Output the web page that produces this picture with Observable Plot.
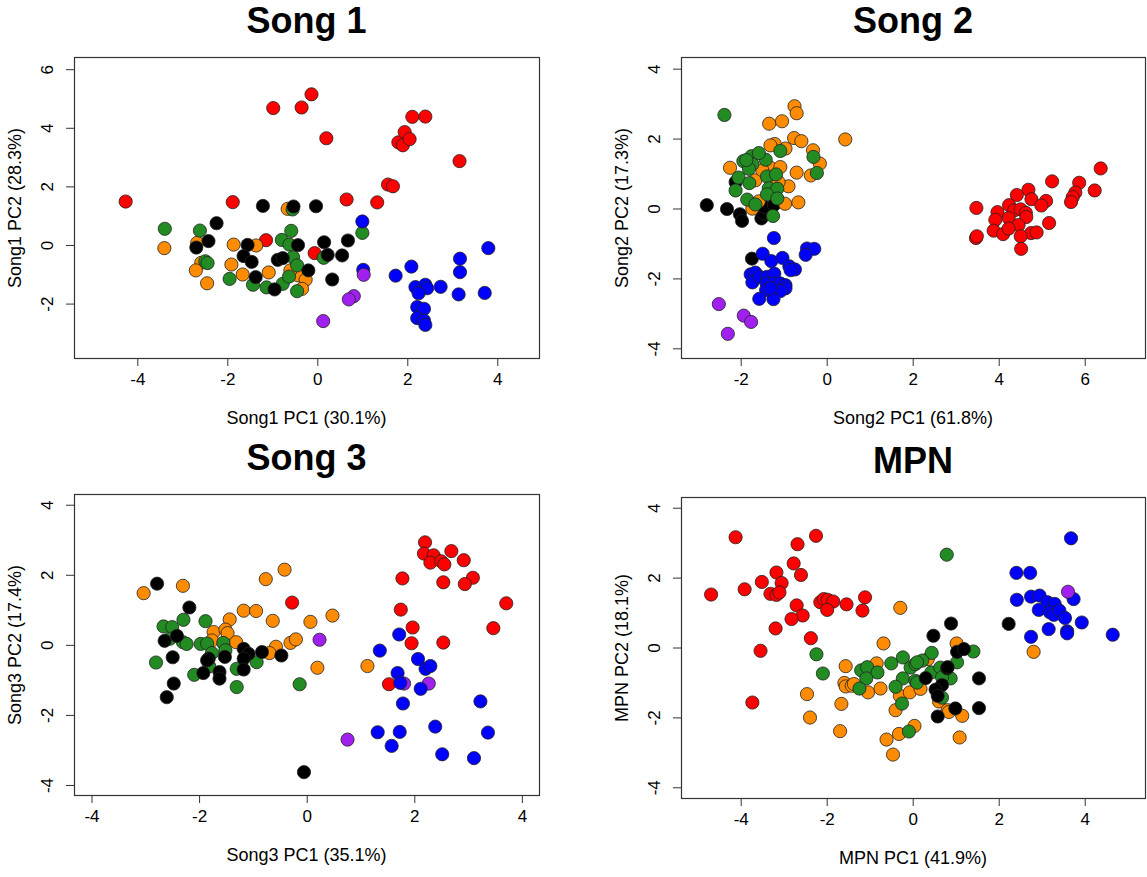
<!DOCTYPE html>
<html>
<head>
<meta charset="utf-8">
<script src="https://cdn.jsdelivr.net/npm/d3@7"></script>
<script src="https://cdn.jsdelivr.net/npm/@observablehq/plot@0.6"></script>
<style>
  body { margin: 0; background: #fff; }
  #chart { position: relative; width: 1147px; height: 877px; font-family: "Liberation Sans", Arial, sans-serif; color: #000; }
  .panel { position: absolute; }
  .title { position: absolute; font-weight: bold; font-size: 36px; line-height: 1; white-space: nowrap; transform: translate(-50%, -50%); }
  .xlab { position: absolute; font-size: 18px; line-height: 1; white-space: nowrap; transform: translate(-50%, -50%); }
  .ylab { position: absolute; font-size: 18px; line-height: 1; white-space: nowrap; transform: translate(-50%, -50%) rotate(-90deg); }
</style>
</head>
<body>
<div id="chart"></div>
<script>
// PCA scores per song, split by group colour: [PC1, PC2]

// ---- Song 1 ----
const song1Red = [[-4.27,1.50],[-1.89,1.48],[-1.15,0.18],[-0.99,4.69],[-0.36,4.71],[-0.14,5.16],[0.19,3.66],[-0.07,-0.26],[0.64,1.57],[1.32,1.47],[1.56,2.08],[1.67,2.02],[1.79,3.52],[1.89,3.42],[1.93,3.87],[2.04,3.63],[2.10,4.39],[2.39,4.40],[3.15,2.88]];
const song1Orange = [[-3.41,-0.09],[-2.68,0.09],[-2.59,-0.59],[-2.71,-0.85],[-2.46,-1.29],[-1.87,0.03],[-1.37,0.00],[-1.92,-0.65],[-1.67,-0.99],[-1.09,-0.92],[-0.67,1.25],[-0.44,-1.02],[-0.27,-1.17],[-0.35,-1.48],[-0.61,-0.85]];
const song1Green = [[-3.40,0.57],[-2.62,0.51],[-2.50,-0.54],[-2.45,-0.60],[-1.96,-1.14],[-1.44,-1.34],[-1.14,-1.43],[-0.78,-1.31],[-0.64,-1.06],[-0.80,0.19],[-0.59,0.50],[-0.63,0.03],[-0.55,-0.40],[-0.46,-0.68],[-0.46,-1.56],[-0.56,1.23],[0.99,0.43],[0.13,-0.42]];
const song1Black = [[-2.25,0.76],[-2.43,0.15],[-2.70,-0.07],[-1.22,1.35],[-0.54,1.33],[-0.04,1.34],[-1.56,0.02],[-1.65,-0.36],[-1.47,-0.56],[-1.38,-1.08],[-0.96,-1.50],[-0.89,-0.49],[-0.78,-0.43],[-0.44,0.01],[-0.21,-0.85],[0.14,0.11],[0.67,0.17],[0.54,-0.34],[0.22,-0.32],[0.32,-1.16]];
const song1Blue = [[0.99,0.82],[1.01,-0.83],[1.73,-1.03],[2.08,-0.72],[2.17,-1.42],[2.39,-1.34],[2.43,-1.46],[2.24,-1.63],[2.73,-1.41],[2.21,-2.10],[2.36,-2.16],[2.21,-2.48],[2.36,-2.56],[2.39,-2.71],[3.13,-1.67],[3.71,-1.62],[3.16,-0.91],[3.16,-0.45],[3.79,-0.09]];
const song1Purple = [[1.02,-1.00],[0.80,-1.73],[0.69,-1.84],[0.12,-2.58]];

// ---- Song 2 ----
const song2Red = [[6.36,1.16],[5.86,0.75],[6.22,0.53],[5.77,0.47],[5.71,0.34],[5.67,0.20],[5.23,0.79],[4.68,0.55],[4.41,0.40],[4.75,0.28],[5.09,0.23],[4.98,0.10],[4.23,0.11],[3.47,0.03],[3.96,-0.09],[4.35,-0.04],[4.50,-0.01],[4.62,-0.11],[4.63,-0.23],[3.91,-0.31],[4.22,-0.26],[5.16,-0.40],[4.45,-0.46],[3.87,-0.62],[4.09,-0.72],[4.22,-0.56],[4.74,-0.69],[4.87,-0.67],[4.50,-0.78],[3.46,-0.83],[3.48,-0.78],[4.51,-1.14]];
const song2Black = [[-2.80,0.11],[-2.33,0.00],[-2.03,-0.15],[-1.98,-0.34],[-1.53,-0.27],[-1.49,-0.13],[-1.47,0.06],[-1.24,0.11],[-2.13,0.77],[-1.75,-1.42]];
const song2Orange = [[-0.76,2.94],[-0.71,2.74],[-1.35,2.44],[-1.05,2.51],[-0.77,2.03],[-0.60,1.94],[0.42,1.99],[-0.33,1.68],[-0.17,1.30],[-0.38,0.96],[-0.71,1.04],[-0.67,0.19],[-0.98,0.15],[-0.90,0.65],[-2.26,1.18],[-1.22,1.86],[-0.97,1.73],[-1.74,0.01],[-1.59,0.22],[-1.67,0.82],[-1.32,1.18],[-1.13,0.77],[-1.32,1.82],[-1.51,1.11],[-1.09,1.20]];
const song2Green = [[-2.39,2.69],[-0.32,1.49],[-0.24,1.03],[-1.09,1.66],[-1.43,1.41],[-1.76,1.51],[-1.95,1.37],[-1.59,1.60],[-1.74,1.28],[-2.06,0.90],[-2.13,0.53],[-1.81,0.74],[-1.40,0.93],[-1.19,0.99],[-1.36,0.59],[-1.16,0.58],[-1.40,0.42],[-1.16,0.30],[-1.86,0.27],[-1.67,0.13],[-1.26,-0.20],[-1.82,1.15],[-1.88,1.40]];
const song2Blue = [[-1.24,-0.83],[-1.50,-1.28],[-1.30,-1.49],[-1.04,-1.40],[-0.88,-1.64],[-0.75,-1.73],[-0.85,-1.75],[-0.47,-1.13],[-0.30,-1.14],[-0.50,-1.31],[-1.78,-1.87],[-1.67,-1.82],[-1.74,-2.10],[-1.57,-1.94],[-1.40,-1.94],[-1.23,-1.85],[-1.41,-2.13],[-1.24,-2.13],[-1.42,-2.32],[-1.09,-2.13],[-0.97,-2.18],[-0.97,-2.27],[-1.09,-2.35],[-1.58,-2.57],[-1.25,-2.58],[-1.32,-2.27]];
const song2Purple = [[-2.52,-2.72],[-1.94,-3.05],[-1.77,-3.23],[-2.31,-3.57]];

// ---- Song 3 ----
const song3Red = [[-0.28,1.22],[2.19,2.94],[2.17,2.62],[2.35,2.57],[2.29,2.36],[2.49,2.40],[2.55,2.31],[2.68,2.69],[2.91,2.43],[3.08,1.93],[2.93,1.75],[2.53,1.80],[1.77,1.91],[3.70,1.20],[3.46,0.49],[1.74,1.02],[1.96,0.51],[1.94,0.06],[2.53,0.08],[1.52,-1.11]];
const song3Orange = [[-3.04,1.49],[-2.31,1.70],[-0.77,1.89],[-0.42,2.16],[-1.18,0.99],[-0.95,0.98],[-0.64,0.70],[0.06,0.67],[-1.44,0.74],[-1.74,0.38],[-1.52,0.45],[-1.48,0.35],[-1.77,0.14],[-1.32,0.09],[-0.31,0.07],[-0.21,0.17],[-0.58,-0.04],[-0.70,-0.22],[0.47,0.85],[0.19,-0.64],[1.12,-0.59]];
const song3Green = [[-2.67,0.54],[-2.51,0.52],[-2.30,0.73],[-1.89,0.69],[-2.55,0.19],[-2.31,0.09],[-2.24,0.04],[-2.81,-0.49],[-1.98,0.04],[-1.86,0.05],[-1.77,-0.22],[-1.82,-0.60],[-2.10,-0.84],[-1.56,0.07],[-1.52,-0.14],[-1.31,-0.67],[-1.31,-1.19],[-0.94,-0.48],[-0.14,-1.11]];
const song3Black = [[-2.79,1.76],[-2.19,1.08],[-2.42,0.27],[-2.65,0.13],[-2.50,-0.34],[-2.48,-1.09],[-2.61,-1.48],[-1.93,-0.79],[-1.63,-0.76],[-1.63,-0.95],[-1.83,-0.38],[-1.86,-0.43],[-1.53,-0.33],[-1.18,-0.10],[-1.09,-0.24],[-1.18,-0.38],[-1.18,-0.69],[-0.84,-0.19],[-0.48,-0.29],[-0.06,-3.62]];
const song3Purple = [[0.23,0.16],[1.80,-1.09],[2.26,-1.09],[0.75,-2.69]];
const song3Blue = [[1.71,0.31],[1.35,-0.15],[2.06,-0.39],[2.20,-0.67],[2.29,-0.59],[1.68,-0.79],[1.73,-1.07],[2.11,-1.24],[1.78,-1.66],[3.22,-1.60],[1.31,-2.48],[1.72,-2.47],[1.57,-2.87],[2.38,-2.32],[3.36,-2.49],[2.51,-3.11],[3.10,-3.22]];

// ---- MPN ----
const mpnRed = [[-4.13,3.17],[-4.70,1.53],[-3.92,1.68],[-3.52,1.89],[-3.18,2.16],[-3.06,1.86],[-3.32,1.55],[-3.18,1.52],[-3.11,1.59],[-2.69,2.97],[-2.26,3.21],[-2.78,2.42],[-2.61,2.09],[-2.71,1.22],[-2.57,0.93],[-2.83,0.83],[-3.20,0.56],[-2.38,0.28],[-3.55,-0.08],[-3.74,-1.56],[-2.16,1.31],[-2.08,1.40],[-1.99,1.38],[-1.86,1.33],[-2.00,1.09],[-1.55,1.25],[-1.12,1.45],[-1.18,1.07]];
const mpnOrange = [[-0.30,1.15],[-0.69,0.13],[-1.57,-0.52],[-0.85,-0.44],[-1.60,-1.00],[-1.57,-1.10],[-1.43,-1.08],[-1.05,-1.27],[-0.76,-1.16],[-2.47,-1.32],[-1.67,-1.60],[-2.40,-1.99],[-1.70,-2.38],[-0.62,-2.62],[-0.47,-3.05],[-0.33,-2.46],[-0.41,-1.78],[-0.31,-1.37],[-0.08,-1.27],[0.17,-1.17],[0.60,-1.53],[0.80,-1.78],[1.14,-1.94],[0.03,-2.23],[1.08,-2.56],[1.01,0.13],[0.34,-0.32],[-1.38,-1.03],[0.83,-1.83],[2.80,-0.11]];
const mpnGreen = [[-2.25,-0.18],[-2.10,-0.73],[-1.21,-0.64],[-1.07,-0.55],[-0.83,-0.70],[-1.09,-0.87],[-1.25,-1.16],[-0.51,-0.44],[-0.24,-0.27],[-0.24,-0.87],[-0.41,-1.11],[-0.26,-1.59],[-0.10,-2.39],[-0.06,-0.56],[0.78,2.67],[1.40,-0.10],[0.43,-0.14],[0.21,-0.36],[0.05,-0.46],[0.09,-0.41],[0.42,-0.70],[0.05,-0.94],[0.09,-0.99],[0.63,-0.56],[0.87,-0.87],[0.67,-0.84],[1.02,-0.41],[0.67,-1.42]];
const mpnBlack = [[0.88,0.70],[0.47,0.35],[2.22,0.69],[1.02,-0.11],[1.18,-0.03],[0.79,-0.58],[0.29,-0.86],[0.67,-1.06],[0.52,-1.19],[0.57,-1.37],[1.53,-0.87],[1.53,-1.72],[0.98,-1.73],[0.57,-1.96],[0.80,-0.55]];
const mpnBlue = [[3.67,3.14],[2.40,2.15],[2.72,2.15],[2.41,1.38],[2.74,1.47],[2.94,1.50],[3.12,1.31],[3.29,1.26],[3.73,1.40],[2.92,1.09],[3.18,1.02],[3.27,0.95],[3.40,1.07],[3.53,0.86],[3.92,0.73],[3.15,0.54],[3.58,0.48],[3.58,0.42],[2.74,0.32],[4.64,0.38]];
const mpnPurple = [[3.60,1.61]];

// Tick labels
const ticksSong1X = [-4, -2, 0, 2, 4];
const ticksSong1Y = [-2, 0, 2, 4, 6];
const ticksSong2X = [-2, 0, 2, 4, 6];
const ticksSong2Y = [-4, -2, 0, 2, 4];
const ticksSong3X = [-4, -2, 0, 2, 4];
const ticksSong3Y = [-4, -2, 0, 2, 4];
const ticksMpnX = [-4, -2, 0, 2, 4];
const ticksMpnY = [-4, -2, 0, 2, 4];

// Group fill colours
const colors = {
  red: "#FF0000", orange: "#FF8C00", green: "#228B22",
  black: "#000000", blue: "#0000FF", purple: "#A020F0"
};

// Panel layout (position of each svg on the page, frame margins, scale domains)
const panels = [
  {
    title: "Song 1", xLabel: "Song1 PC1 (30.1%)", yLabel: "Song1 PC2 (28.3%)",
    left: 0, top: 0, width: 560, height: 440,
    margin: [57, 21, 82, 74],
    xDomain: [-5.407, 4.927], yDomain: [-3.857, 6.416],
    xTicks: ticksSong1X, yTicks: ticksSong1Y,
    titleY: 21, xLabY: 418, yLabX: 15,
    layers: [["red", song1Red], ["orange", song1Orange], ["green", song1Green], ["black", song1Black], ["blue", song1Blue], ["purple", song1Purple]]
  },
  {
    title: "Song 2", xLabel: "Song2 PC1 (61.8%)", yLabel: "Song2 PC2 (17.3%)",
    left: 581, top: 0, width: 566, height: 440,
    margin: [57, 2, 82, 100],
    xDomain: [-3.388, 7.402], yDomain: [-4.277, 4.334],
    xTicks: ticksSong2X, yTicks: ticksSong2Y,
    titleY: 21, xLabY: 418, yLabX: 622,
    layers: [["red", song2Red], ["black", song2Black], ["orange", song2Orange], ["green", song2Green], ["blue", song2Blue], ["purple", song2Purple]]
  },
  {
    title: "Song 3", xLabel: "Song3 PC1 (35.1%)", yLabel: "Song3 PC2 (17.4%)",
    left: 0, top: 440, width: 560, height: 437,
    margin: [54, 21, 82, 74],
    xDomain: [-4.325, 4.318], yDomain: [-4.286, 4.306],
    xTicks: ticksSong3X, yTicks: ticksSong3Y,
    titleY: 458, xLabY: 855, yLabX: 15,
    layers: [["red", song3Red], ["orange", song3Orange], ["green", song3Green], ["black", song3Black], ["purple", song3Purple], ["blue", song3Blue]]
  },
  {
    title: "MPN", xLabel: "MPN PC1 (41.9%)", yLabel: "MPN PC2 (18.1%)",
    left: 581, top: 440, width: 566, height: 437,
    margin: [57, 2, 79, 100],
    xDomain: [-5.388, 5.402], yDomain: [-4.307, 4.307],
    xTicks: ticksMpnX, yTicks: ticksMpnY,
    titleY: 461, xLabY: 858, yLabX: 622,
    layers: [["red", mpnRed], ["orange", mpnOrange], ["green", mpnGreen], ["black", mpnBlack], ["blue", mpnBlue], ["purple", mpnPurple]]
  }
];

const chart = document.getElementById("chart");
const fmt = d => String(d);

function addText(cls, text, x, y) {
  const el = document.createElement("div");
  el.className = cls;
  el.textContent = text;
  el.style.left = x + "px";
  el.style.top = y + "px";
  chart.appendChild(el);
}

for (const p of panels) {
  const [mt, mr, mb, ml] = p.margin;
  const svg = Plot.plot({
    width: p.width,
    height: p.height,
    marginTop: mt, marginRight: mr, marginBottom: mb, marginLeft: ml,
    x: { domain: p.xDomain },
    y: { domain: p.yDomain },
    style: { fontFamily: "Liberation Sans, Arial, sans-serif", fontSize: "17px", color: "#000", background: "transparent", overflow: "visible" },
    marks: [
      Plot.axisX(p.xTicks, { tickSize: 8, tickPadding: 6, tickFormat: fmt, label: null, stroke: "#333" }),
      Plot.axisY(p.yTicks, { tickSize: 8, tickPadding: 14, tickRotate: -90, tickFormat: fmt, label: null, stroke: "#333" }),
      ...p.layers.map(([c, pts]) => Plot.dot(pts, {
        x: d => d[0], y: d => d[1], r: 6.6,
        fill: colors[c], fillOpacity: 1, stroke: "#222", strokeWidth: 0.8
      })),
      Plot.frame({ stroke: "#333", strokeWidth: 1.2 })
    ]
  });
  svg.classList.add("panel");
  svg.style.left = p.left + "px";
  svg.style.top = p.top + "px";
  chart.appendChild(svg);

  const cx = p.left + ml + (p.width - ml - mr) / 2;
  addText("title", p.title, cx, p.titleY);
  addText("xlab", p.xLabel, cx, p.xLabY);
  addText("ylab", p.yLabel, p.yLabX, p.top + mt + (p.height - mt - mb) / 2);
}
</script>
</body>
</html>
